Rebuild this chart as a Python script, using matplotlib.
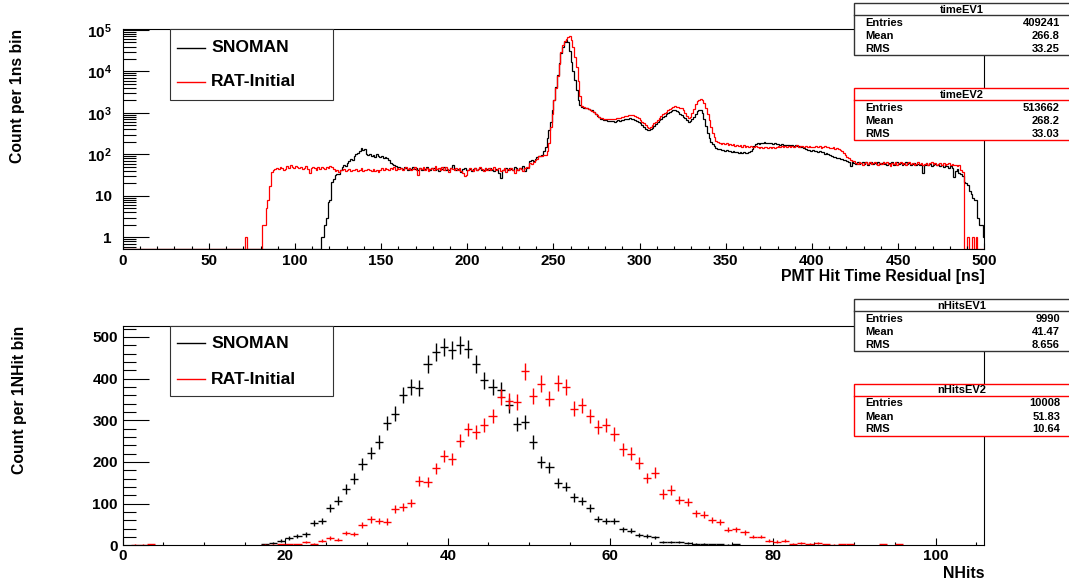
import numpy as np
import matplotlib
matplotlib.use("Agg")
import matplotlib.pyplot as plt
from matplotlib.patches import Rectangle
from matplotlib.ticker import MultipleLocator, FixedLocator, FixedFormatter, LogLocator, NullFormatter

# PMT hit time residuals, counts per 1 ns bin from 0 to 500 ns
snoman_time = [
    0, 0, 0, 0, 0, 0, 0, 0, 0, 0, 0, 0, 0, 0, 0, 0, 0, 0, 0, 0,  # 0
    0, 0, 0, 0, 0, 0, 0, 0, 0, 0, 0, 0, 0, 0, 0, 0, 0, 0, 0, 0,  # 20
    0, 0, 0, 0, 0, 0, 0, 0, 0, 0, 0, 0, 0, 0, 0, 0, 0, 0, 0, 0,  # 40
    0, 0, 0, 0, 0, 0, 0, 0, 0, 0, 0, 0, 0, 0, 0, 0, 0, 0, 0, 0,  # 60
    0, 0, 0, 0, 0, 0, 0, 0, 0, 0, 0, 0, 0, 0, 0, 0, 0, 0, 0, 0,  # 80
    0, 0, 0, 0, 0, 0, 0, 0, 0, 0, 0, 0, 0, 0, 0, 1, 1, 2, 3, 7,  # 100
    8, 22, 25, 31, 33, 34, 42, 50, 54, 52, 63, 70, 76, 74, 92, 104, 110, 118, 142, 131,  # 120
    138, 102, 96, 104, 92, 99, 88, 101, 94, 86, 90, 84, 88, 80, 72, 62, 58, 55, 52, 49,  # 140
    50, 47, 44, 49, 46, 42, 48, 45, 51, 44, 46, 43, 48, 41, 47, 45, 50, 44, 42, 46,  # 160
    48, 43, 45, 40, 47, 44, 49, 42, 45, 43, 46, 56, 44, 41, 45, 42, 38, 44, 46, 41,  # 180
    43, 45, 40, 44, 47, 42, 45, 48, 43, 41, 46, 44, 42, 47, 43, 39, 45, 42, 35, 27,  # 200
    41, 44, 46, 42, 48, 45, 43, 50, 46, 41, 47, 44, 52, 40, 46, 50, 68, 72, 70, 78,  # 220
    88, 92, 90, 96, 118, 155, 245, 390, 620, 1180, 2100, 4300, 8200, 15700, 28000,
    40000, 52000, 57000, 50000, 32000,  # 240
    17000, 10500, 6100, 3500, 2100, 1550, 1400, 1350, 1300, 1280, 1250, 1200, 1150,
    1050, 950, 850, 780, 730, 700, 680,  # 260
    660, 645, 650, 630, 640, 620, 640, 660, 650, 670, 690, 700, 720, 730, 740, 730,
    710, 680, 640, 600,  # 280
    560, 520, 470, 420, 390, 385, 400, 430, 480, 540, 600, 660, 720, 790, 860, 930,
    990, 1040, 1100, 1150,  # 300
    1170, 1130, 1050, 960, 890, 820, 740, 680, 620, 640, 700, 800, 950, 1100, 1170,
    1150, 980, 720, 480, 330,  # 320
    250, 200, 180, 160, 145, 138, 132, 127, 130, 124, 126, 118, 122, 115, 119, 112, 117, 110, 114, 108,  # 340
    112, 106, 110, 115, 120, 135, 160, 178, 185, 182, 190, 186, 195, 188, 192, 185, 190, 182, 188, 180,  # 360
    176, 170, 174, 168, 172, 165, 170, 162, 168, 160, 164, 158, 162, 155, 150, 145, 138, 130, 128, 122,  # 380
    125, 118, 120, 115, 118, 112, 115, 100, 110, 104, 96, 92, 88, 85, 82, 80, 78, 76, 74, 72,  # 400
    70, 66, 52, 68, 63, 60, 65, 58, 62, 66, 60, 64, 57, 62, 66, 59, 63, 60, 65, 58,  # 420
    62, 67, 60, 56, 63, 59, 64, 57, 61, 65, 58, 62, 56, 60, 64, 58, 61, 55, 60, 63,  # 440
    57, 60, 54, 59, 36, 57, 61, 55, 59, 53, 57, 60, 54, 58, 52, 56, 50, 55, 52, 48,  # 460
    53, 46, 29, 40, 45, 36, 34, 30, 22, 20, 18, 13, 11, 9, 8, 8, 3, 2, 2, 1,  # 480
]
rat_time = [
    0, 0, 0, 0, 0, 0, 0, 0, 0, 0, 0, 0, 0, 0, 0, 0, 0, 0, 0, 0,  # 0
    0, 0, 0, 0, 0, 0, 0, 0, 0, 0, 0, 0, 0, 0, 0, 0, 0, 0, 0, 0,  # 20
    0, 0, 0, 0, 0, 0, 0, 0, 0, 0, 0, 0, 0, 0, 0, 0, 0, 0, 0, 0,  # 40
    0, 0, 0, 0, 0, 0, 0, 0, 0, 0, 0, 1, 0, 0, 0, 0, 0, 0, 0, 0,  # 60
    0, 2, 2, 5, 8, 17, 38, 42, 44, 46, 45, 49, 47, 43, 45, 52, 48, 55, 50, 46,  # 80
    53, 49, 47, 51, 45, 48, 52, 44, 36, 47, 50, 46, 43, 49, 45, 51, 47, 44, 50, 48,  # 100
    53, 49, 45, 40, 42, 38, 43, 41, 44, 39, 42, 45, 40, 43, 41, 44, 39, 42, 46, 40,  # 120
    43, 41, 45, 42, 39, 44, 40, 43, 38, 42, 46, 41, 48, 44, 42, 47, 45, 50, 43, 46,  # 140
    44, 48, 42, 46, 50, 44, 47, 41, 45, 49, 43, 31, 46, 44, 51, 42, 47, 39, 45, 48,  # 160
    42, 52, 44, 46, 41, 49, 43, 50, 45, 38, 47, 44, 41, 46, 43, 48, 40, 35, 30, 32,  # 180
    41, 46, 43, 39, 47, 42, 45, 50, 44, 40, 46, 43, 48, 41, 45, 49, 42, 44, 47, 40,  # 200
    43, 46, 38, 44, 41, 47, 43, 36, 45, 42, 48, 44, 39, 46, 50, 47, 62, 60, 66, 72,  # 220
    78, 90, 92, 92, 95, 96, 120, 190, 450, 950, 2000, 4000, 7800, 15000, 29000,
    44000, 53000, 61000, 67000, 70000,  # 240
    56000, 38000, 22000, 12500, 6000, 2600, 1500, 1400, 1350, 1300, 1260, 1200, 1130,
    1050, 960, 870, 800, 760, 740, 720,  # 260
    710, 700, 710, 700, 720, 730, 740, 760, 770, 790, 810, 830, 850, 870, 880, 890,
    870, 840, 800, 740,  # 280
    680, 620, 560, 500, 450, 430, 450, 500, 560, 620, 690, 760, 840, 920, 1000, 1080,
    1160, 1250, 1330, 1400,  # 300
    1450, 1420, 1380, 1320, 1290, 1150, 1000, 860, 760, 820, 980, 1250, 1600, 1900,
    2100, 2200, 2100, 1750, 1300, 950,  # 320
    680, 460, 330, 260, 215, 195, 188, 180, 192, 176, 185, 170, 182, 165, 178, 160, 172, 158, 168, 155,  # 340
    165, 152, 162, 150, 158, 154, 148, 156, 150, 146, 155, 140, 152, 148, 142, 150, 145, 153, 140, 148,  # 360
    156, 150, 160, 152, 158, 150, 162, 155, 160, 152, 158, 164, 150, 157, 162, 155, 160, 152, 158, 148,  # 380
    155, 150, 160, 148, 156, 145, 152, 160, 150, 155, 146, 140, 148, 138, 145, 132, 128, 120, 108, 96,  # 400
    88, 80, 74, 70, 68, 62, 58, 65, 61, 55, 63, 67, 60, 64, 58, 62, 66, 60, 56, 63,  # 420
    59, 65, 61, 66, 58, 52, 62, 60, 64, 57, 61, 66, 59, 63, 57, 61, 65, 59, 62, 56,  # 440
    60, 64, 58, 62, 55, 60, 63, 57, 61, 65, 58, 62, 56, 60, 63, 57, 61, 55, 60, 62,  # 460
    56, 59, 54, 57, 52, 55, 42, 38, 0, 0, 1, 0, 0, 1, 0, 1, 0, 0, 0, 0,  # 480
]

# NHits per event, 1 NHit bins starting at 0
snoman_nhits = [
    0, 0, 0, 0, 0, 0, 0, 0, 0, 0, 0, 0, 0, 0, 0, 0, 0,
    2, 5, 11, 17, 23, 26, 54, 59, 89, 107, 135, 160, 195, 222, 248, 294, 316, 360,
    380, 378, 435, 464, 475, 468, 480, 471, 435, 396, 380, 372, 336, 291, 296, 248,
    200, 187, 150, 141, 115, 106, 89, 63, 59, 59, 38, 35, 25, 22, 19, 7, 7, 7, 5, 3,
    3, 2, 2, 1, 2,
    0, 0, 0, 0, 0, 0, 0, 0, 0, 0, 0, 0, 0, 0, 0, 0, 0, 0, 0, 0, 0, 0, 0, 0, 0, 0, 0, 0, 0, 0,
]
rat_nhits = [
    0, 1, 1, 2, 0, 0, 0, 0, 0, 0, 0, 0, 0, 0, 0, 0, 0,
    1, 1, 2, 2, 2, 7, 4, 11, 17, 13, 29, 27, 49, 62, 59, 57, 87, 93, 102, 155, 152,
    185, 214, 208, 251, 278, 272, 288, 310, 356, 346, 344, 418, 358, 388, 352, 390,
    379, 328, 336, 310, 284, 288, 267, 230, 220, 198, 161, 174, 123, 133, 109, 104,
    77, 73, 61, 55, 37, 38, 31, 21, 21, 11, 9, 11, 4, 6, 4, 5, 2, 1, 2, 2,
    0, 0, 0, 2, 0, 2, 0, 0, 0, 0, 0, 0, 0, 0, 0, 0,
]

series_names = ['SNOMAN', 'RAT-Initial']
series_colors = ['black', 'red']
time_stats = [('timeEV1', '409241', '266.8', '33.25'), ('timeEV2', '513662', '268.2', '33.03')]
nhits_stats = [('nHitsEV1', '9990', '41.47', '8.656'), ('nHitsEV2', '10008', '51.83', '10.64')]
log_ticks = [1, 10, 100, 1000, 10000, 100000]
log_labels = ['1', '10', '10$^{2}$', '10$^{3}$', '10$^{4}$', '10$^{5}$']

plt.rcParams['font.family'] = ['Liberation Sans', 'DejaVu Sans']
plt.rcParams['font.weight'] = 'bold'
plt.rcParams['mathtext.fontset'] = 'custom'
plt.rcParams['mathtext.rm'] = 'Liberation Sans:bold'
plt.rcParams['mathtext.it'] = 'Liberation Sans:bold'
plt.rcParams['mathtext.bf'] = 'Liberation Sans:bold'
plt.rcParams['axes.linewidth'] = 0.8

W, H = 1069, 585
fig = plt.figure(figsize=(W / 100, H / 100), dpi=100)


def rect(l, t, r, b):
    # pixel box (left, top, right, bottom) -> figure fractions
    return [l / W, 1 - b / H, (r - l) / W, (b - t) / H]


ax1 = fig.add_axes(rect(122.7, 29.3, 984.3, 249.3))
ax2 = fig.add_axes(rect(122.7, 325.7, 984.3, 545.3))

# top: time residual histograms, log scale; empty bins sit on the frame like ROOT does
ymin = 0.514
time_edges = np.arange(len(snoman_time) + 1)
for vals, col in zip((snoman_time, rat_time), series_colors):
    v = np.asarray(vals, float)
    ax1.stairs(np.where(v > 0, v, ymin), time_edges, color=col, lw=0.9, baseline=None)

ax1.set_xlim(0, 500)
ax1.set_yscale('log')
ax1.set_ylim(ymin, 1.04e5)
ax1.xaxis.set_major_locator(MultipleLocator(50))
ax1.xaxis.set_minor_locator(MultipleLocator(10))
ax1.yaxis.set_major_locator(FixedLocator(log_ticks))
ax1.yaxis.set_major_formatter(FixedFormatter(log_labels))
ax1.yaxis.set_minor_locator(LogLocator(base=10, subs=np.arange(2, 10)))
ax1.yaxis.set_minor_formatter(NullFormatter())
ax1.tick_params(axis='y', which='major', direction='in', length=18.5, width=0.8, pad=8, labelsize=11, right=False)
ax1.tick_params(axis='y', which='minor', direction='in', length=9.4, width=0.8, right=False)
ax1.tick_params(axis='x', which='major', direction='in', length=4.5, width=0.8, pad=3.4, labelsize=11, top=False)
ax1.tick_params(axis='x', which='minor', direction='in', length=2.4, width=0.8, top=False)

# bottom: nhits with sqrt(N) errors and bin-width crosses
centers = np.arange(len(snoman_nhits)) + 0.5
for vals, col in zip((snoman_nhits, rat_nhits), series_colors):
    v = np.asarray(vals, float)
    m = v > 0
    ax2.errorbar(centers[m], v[m], xerr=0.5, yerr=np.sqrt(v[m]), fmt='none',
                 ecolor=col, elinewidth=1.0, capsize=0)

ax2.set_xlim(0, 106)
ax2.set_ylim(0, 527)
ax2.xaxis.set_major_locator(MultipleLocator(20))
ax2.xaxis.set_minor_locator(MultipleLocator(5))
ax2.yaxis.set_major_locator(MultipleLocator(100))
ax2.yaxis.set_minor_locator(MultipleLocator(20))
ax2.tick_params(axis='y', which='major', direction='in', length=18.5, width=0.8, pad=3.4, labelsize=11, right=False)
ax2.tick_params(axis='y', which='minor', direction='in', length=9.4, width=0.8, right=False)
ax2.tick_params(axis='x', which='major', direction='in', length=4.8, width=0.8, pad=2.9, labelsize=11, top=False)
ax2.tick_params(axis='x', which='minor', direction='in', length=2.4, width=0.8, top=False)

# overlay in pixel units for titles, legends and stat boxes
ov = fig.add_axes([0, 0, 1, 1], zorder=5)
ov.set_xlim(0, W)
ov.set_ylim(H, 0)
ov.axis('off')

ov.text(984.3, 276, 'PMT Hit Time Residual [ns]', ha='right', va='center', fontsize=11.4)
ov.text(984.3, 573, 'NHits', ha='right', va='center', fontsize=11.4)
ov.text(18, 29.3, 'Count per 1ns bin', rotation=90, ha='center', va='top', fontsize=11.3)
ov.text(19.5, 325.7, 'Count per 1NHit bin', rotation=90, ha='center', va='top', fontsize=11.3)


def legend(top, bottom, rows_y):
    ov.add_patch(Rectangle((170, top), 163, bottom - top, fc='white', ec='#333333', lw=0.8))
    for name, col, y in zip(series_names, series_colors, rows_y):
        ov.plot([176.7, 205.2], [y, y], color=col, lw=1.0)
        ov.text(211, y, name, ha='left', va='center', fontsize=12.6)


legend(29.3, 100, (47.5, 82))
legend(325.7, 396, (343.3, 379))


def stats(top, info, col):
    name, entries, mean, rms = info
    ov.add_patch(Rectangle((854.3, top), 222, 51.5, fc='white', ec=col, lw=1.0))
    ov.plot([854.3, 1076], [top + 12, top + 12], color=col, lw=1.0)
    ov.text(962, top + 6.3, name, ha='center', va='center', fontsize=8)
    for i, (key, val) in enumerate((('Entries', entries), ('Mean', mean), ('RMS', rms))):
        y = top + 19.5 + 13 * i
        ov.text(865, y, key, ha='left', va='center', fontsize=8)
        ov.text(1060, y, val, ha='right', va='center', fontsize=8)


stats(3.3, time_stats[0], '#333333')
stats(88.3, time_stats[1], 'red')
stats(299.3, nhits_stats[0], '#333333')
stats(384, nhits_stats[1], 'red')

fig.savefig('out.png', dpi=100)
